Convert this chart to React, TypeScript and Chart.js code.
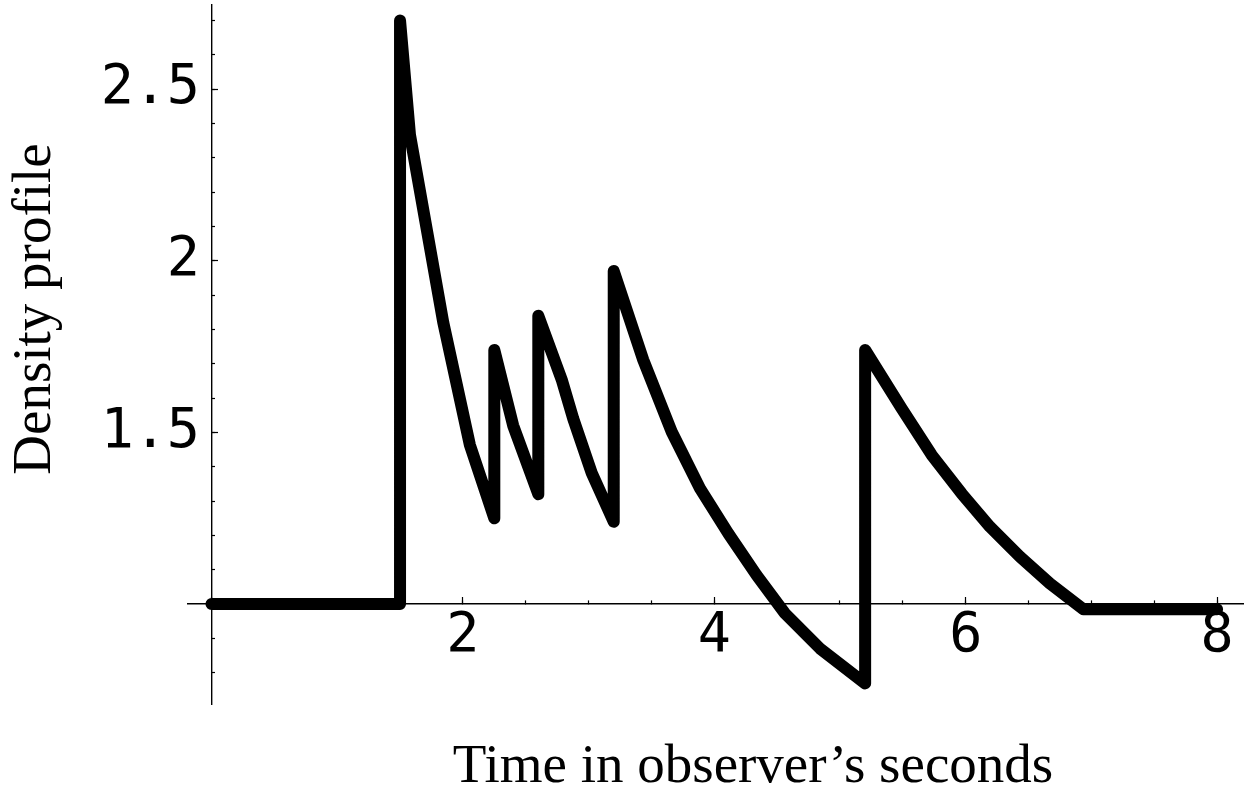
import React, { useEffect, useRef } from 'react';
import { Chart, registerables } from 'chart.js';

Chart.register(...registerables);

// Sampled points of the plotted curve (time in observer's seconds, density)
const timeValues = [
  0, 1.5, 1.5, 1.579, 1.844, 2.056, 2.25,
  2.25, 2.4, 2.6,
  2.6, 2.786, 2.878, 3.025, 3.2,
  3.2, 3.435, 3.661, 3.886, 4.111, 4.337, 4.562, 4.84, 5.2,
  5.2, 5.49, 5.73, 5.968, 6.193, 6.432, 6.67, 6.936,
  8,
];
const densityValues = [
  1, 1, 2.7, 2.367, 1.82, 1.463, 1.25,
  1.74, 1.52, 1.32,
  1.84, 1.654, 1.54, 1.382, 1.24,
  1.97, 1.711, 1.502, 1.337, 1.206, 1.084, 0.973, 0.871, 0.769,
  1.74, 1.57, 1.434, 1.322, 1.225, 1.138, 1.06, 0.985,
  0.985,
];

const xTickLabels = [2, 4, 6, 8];
const yTickLabels = [1.5, 2, 2.5];
const xRange = [-0.19, 8.21];
const yRange = [0.709, 2.745];
const yLabelAnchor = -0.0915; // x value at which the y tick labels end
const xTitle = 'Time in observer\u2019s seconds';
const yTitle = 'Density profile';

const TICK_FONT = { family: '"DejaVu Sans Mono", monospace', size: 55, lineHeight: 1 };
const TITLE_FONT = '55px "Liberation Serif", "Times New Roman", serif';

const hasLabel = (list: number[], v: number) => list.some((t) => Math.abs(t - v) < 1e-6);
const fmt = (v: number) => String(Math.round(v * 10) / 10);

const titlePlugin = {
  id: 'axisTitles',
  afterDraw(chart: any) {
    const ctx = chart.ctx;
    ctx.save();
    ctx.fillStyle = '#000';
    ctx.font = TITLE_FONT;
    ctx.textAlign = 'center';
    ctx.textBaseline = 'alphabetic';
    ctx.fillText(xTitle, 753, 782);
    ctx.translate(50, 309);
    ctx.rotate(-Math.PI / 2);
    ctx.fillText(yTitle, 0, 0);
    ctx.restore();
  },
};

const clearPadding = (s: any) => {
  s.paddingTop = 0;
  s.paddingBottom = 0;
  s.paddingLeft = 0;
  s.paddingRight = 0;
};
const zeroW = (s: any) => { s.width = 0; clearPadding(s); };
const zeroH = (s: any) => { s.height = 0; clearPadding(s); };

export default function App() {
  const canvasRef = useRef<HTMLCanvasElement | null>(null);

  useEffect(() => {
    const canvas = canvasRef.current;
    if (!canvas) return;
    const points = timeValues.map((t, i) => ({ x: t, y: densityValues[i] }));

    const chart = new Chart(canvas, {
      type: 'scatter',
      data: {
        datasets: [
          {
            data: points,
            showLine: true,
            borderColor: '#000',
            backgroundColor: '#000',
            borderWidth: 12,
            borderJoinStyle: 'round',
            borderCapStyle: 'round',
            pointRadius: 0,
            tension: 0,
            clip: false,
            xAxisID: 'x',
            yAxisID: 'y',
          } as any,
        ],
      },
      options: {
        responsive: false,
        animation: false,
        events: [],
        layout: {
          autoPadding: false,
          padding: { left: 187.6, right: 3.5, top: 5, bottom: 88 },
        },
        plugins: {
          legend: { display: false },
          tooltip: { enabled: false },
          title: { display: false },
        },
        scales: {
          x: {
            type: 'linear',
            min: xRange[0],
            max: xRange[1],
            position: { y: 1 } as any,
            afterFit: zeroH,
            grid: {
              display: true,
              drawOnChartArea: false,
              drawTicks: true,
              tickLength: -4,
              tickColor: '#000',
              tickWidth: 1.2,
            },
            border: { display: true, color: '#000', width: 1.4 },
            ticks: { stepSize: 0.5, includeBounds: false, display: false, autoSkip: false },
          },
          x2: {
            type: 'linear',
            axis: 'x',
            min: xRange[0],
            max: xRange[1],
            position: { y: 1 } as any,
            afterFit: zeroH,
            grid: {
              display: true,
              drawOnChartArea: false,
              drawTicks: true,
              tickLength: -7,
              tickColor: '#000',
              tickWidth: 1.2,
            },
            border: { display: false },
            ticks: {
              stepSize: 2,
              includeBounds: false,
              autoSkip: false,
              maxRotation: 0,
              minRotation: 0,
              padding: 12.5,
              color: '#000',
              font: TICK_FONT,
              callback: (v: any) => (hasLabel(xTickLabels, Number(v)) ? fmt(Number(v)) : ''),
            },
          } as any,
          y: {
            type: 'linear',
            min: yRange[0],
            max: yRange[1],
            position: { x: 0 } as any,
            afterFit: zeroW,
            grid: {
              display: true,
              drawOnChartArea: false,
              drawTicks: true,
              tickLength: -4,
              tickColor: '#000',
              tickWidth: 1.2,
            },
            border: { display: true, color: '#000', width: 1.4 },
            ticks: { stepSize: 0.1, includeBounds: false, display: false, autoSkip: false },
          },
          y2: {
            type: 'linear',
            axis: 'y',
            min: yRange[0],
            max: yRange[1],
            position: { x: 0 } as any,
            afterFit: zeroW,
            grid: {
              display: true,
              drawOnChartArea: false,
              drawTicks: true,
              tickLength: -7,
              tickColor: '#000',
              tickWidth: 1.2,
            },
            border: { display: false },
            ticks: { stepSize: 0.5, includeBounds: false, display: false, autoSkip: false },
          } as any,
          yl: {
            type: 'linear',
            axis: 'y',
            min: yRange[0],
            max: yRange[1],
            position: { x: yLabelAnchor } as any,
            afterFit: zeroW,
            grid: { display: false, drawTicks: false },
            border: { display: false },
            ticks: {
              stepSize: 0.5,
              includeBounds: false,
              autoSkip: false,
              padding: 0,
              color: '#000',
              font: TICK_FONT,
              callback: (v: any) => (hasLabel(yTickLabels, Number(v)) ? fmt(Number(v)) : ''),
            },
          } as any,
        },
      },
      plugins: [titlePlugin],
    });

    return () => chart.destroy();
  }, []);

  return (
    <div style={{ position: 'fixed', left: 0, top: 0, width: 1247, height: 792, background: '#fff' }}>
      <canvas ref={canvasRef} width={1247} height={792} style={{ display: 'block' }} />
    </div>
  );
}
